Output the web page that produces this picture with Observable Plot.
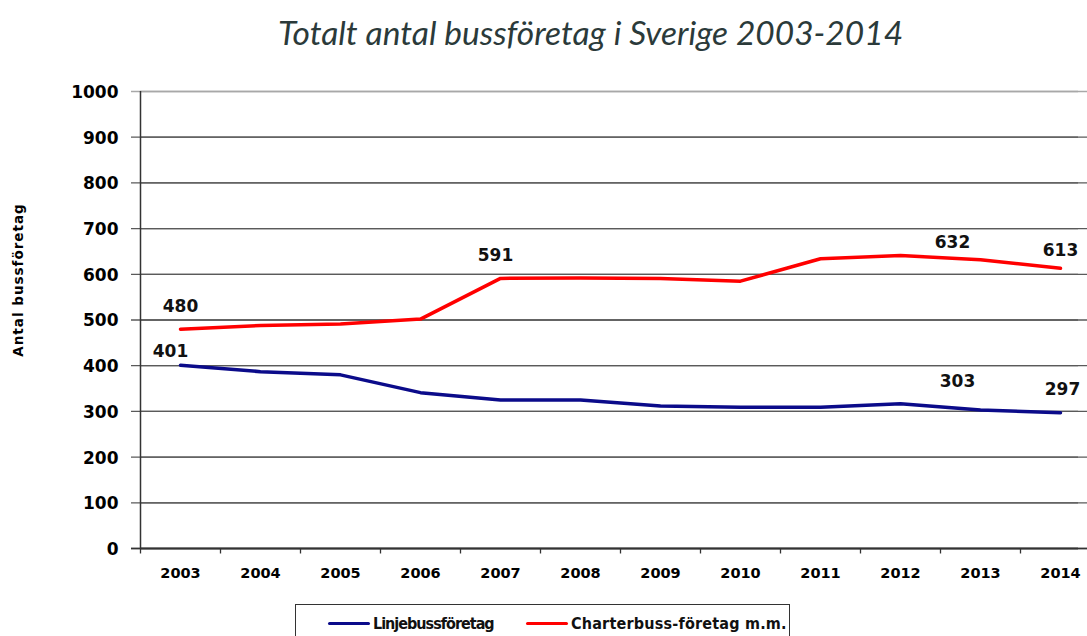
<!DOCTYPE html>
<html>
<head>
<meta charset="utf-8">
<script src="https://cdn.jsdelivr.net/npm/d3@7"></script>
<script src="https://cdn.jsdelivr.net/npm/@observablehq/plot@0.6"></script>
<style>
  html, body { margin: 0; padding: 0; background: #fff; overflow: hidden; width: 1087px; height: 636px; }
  #wrap { position: relative; width: 1087px; height: 636px; overflow: hidden; }
  #title { position: absolute; left: 0; top: 0; width: 1087px; box-sizing: border-box; padding-left: 94px; height: 70px;
           text-align: center; font-family: Lato, "Open Sans", sans-serif; font-style: italic; font-size: 33.5px;
           color: #2b3a3a; line-height: 64px; }
  #chart { position: absolute; left: 0; top: 70px; }
  #legend { position: absolute; left: 295px; top: 604px; width: 495px; height: 50px; box-sizing: border-box;
            border: 1.5px solid #333; background: #fff; }
  .item { position: absolute; top: 9px; display: flex; align-items: center;
          font-family: "Liberation Sans Narrow", "DejaVu Sans Condensed", sans-serif; font-weight: bold; font-size: 16px; color: #111; }
  .sw { display: inline-block; width: 42px; height: 3.5px; margin-right: 3px; border-radius: 2px; }
</style>
</head>
<body>
<div id="wrap">
  <div id="title">Totalt antal bussföretag i Sverige 2003-2014</div>
  <div id="chart"></div>
  <div id="legend"></div>
</div>
<script>
const years = ["2003","2004","2005","2006","2007","2008","2009","2010","2011","2012","2013","2014"];
const linje = [401, 387, 380, 341, 325, 325, 312, 309, 309, 317, 303, 297];
const charter = [480, 488, 491, 502, 591, 592, 591, 585, 634, 641, 632, 613];
const yTicks = [0, 100, 200, 300, 400, 500, 600, 700, 800, 900, 1000];
const seriesNames = ["Linjebussföretag", "Charterbuss-företag m.m."];
const seriesColors = ["#0b0b8a", "#ff0000"];
const yLabel = "Antal bussföretag";

const rows = [];
years.forEach((y, i) => {
  rows.push({year: y, value: linje[i], series: seriesNames[0]});
  rows.push({year: y, value: charter[i], series: seriesNames[1]});
});
const lab = (s, y) => rows.filter(d => d.series === s && d.year === y);

const numFont = "'DejaVu Sans', Verdana, sans-serif";
const gridColor = d => d === 1000 ? "#a8a8a8" : "#5a5a5a";
const labelOpts = {x: "year", y: "value", text: d => String(d.value), fontFamily: numFont, fontWeight: "bold", fontSize: 17, fill: "#111"};

const plot = Plot.plot({
  width: 1087,
  height: 530,
  marginTop: 21,
  marginBottom: 52,
  marginLeft: 140,
  marginRight: 0,
  style: {background: "#fff", overflow: "visible"},
  x: {type: "point", domain: years, range: [140, 1100], padding: 0.5, axis: null},
  y: {domain: [0, 1000], axis: null},
  color: {domain: seriesNames, range: seriesColors},
  marks: [
    // gridlines
    Plot.ruleY(yTicks, {y: d => d, stroke: gridColor, strokeWidth: 1.3}),
    // y tick marks
    Plot.ruleY(yTicks, {y: d => d, dx: -9, stroke: gridColor, strokeWidth: 1.3}),
    // axes lines
    Plot.ruleY([0], {dx: -9, stroke: "#333", strokeWidth: 1.5}),
    Plot.ruleY([0], {stroke: "#333", strokeWidth: 1.5}),
    Plot.ruleX([years[0]], {y1: 0, y2: 1000, dx: -40, stroke: "#333", strokeWidth: 1.5}),
    // x tick marks at category boundaries
    Plot.ruleX(years, {x: d => d, y1: 0, y2: -12, dx: -40, stroke: "#333", strokeWidth: 1.3}),
    // y tick labels
    Plot.text(yTicks, {y: d => d, text: d => String(d), frameAnchor: "left", textAnchor: "end", dx: -22, dy: 1,
      fontFamily: numFont, fontWeight: "bold", fontSize: 17, fill: "#000"}),
    // x tick labels
    Plot.text(years, {x: d => d, text: d => d, frameAnchor: "bottom", dy: 29,
      fontFamily: numFont, fontWeight: "bold", fontSize: 14.5, fill: "#000"}),
    // y axis label
    Plot.text([yLabel], {text: d => d, frameAnchor: "left", textAnchor: "middle", rotate: -90, dx: -122, dy: -40,
      fontFamily: numFont, fontWeight: "bold", fontSize: 13.5, fill: "#000"}),
    // lines
    Plot.line(rows, {x: "year", y: "value", stroke: "series", z: "series", strokeWidth: 3.5, curve: "linear"}),
    // data labels
    Plot.text(lab(seriesNames[1], "2003"), {...labelOpts, dy: -23}),
    Plot.text(lab(seriesNames[0], "2003"), {...labelOpts, dx: -10, dy: -14}),
    Plot.text(lab(seriesNames[1], "2007"), {...labelOpts, dx: -5, dy: -23}),
    Plot.text(lab(seriesNames[1], "2013"), {...labelOpts, dx: -28, dy: -17}),
    Plot.text(lab(seriesNames[1], "2014"), {...labelOpts, dx: 0, dy: -18}),
    Plot.text(lab(seriesNames[0], "2013"), {...labelOpts, dx: -23, dy: -28}),
    Plot.text(lab(seriesNames[0], "2014"), {...labelOpts, dx: 2, dy: -23})
  ]
});
d3.select(plot).selectAll("text").filter(function() { return this.textContent === yLabel; })
  .attr("letter-spacing", "1px");
document.getElementById("chart").appendChild(plot);

// legend
const legend = document.getElementById("legend");
const lefts = [32, 230];
const spacing = ["-1px", "0.2px"];
seriesNames.forEach((s, i) => {
  const it = document.createElement("div");
  it.className = "item";
  it.style.left = lefts[i] + "px";
  const sw = document.createElement("span");
  sw.className = "sw";
  sw.style.background = seriesColors[i];
  const tx = document.createElement("span");
  tx.textContent = s;
  tx.style.letterSpacing = spacing[i];
  it.appendChild(sw);
  it.appendChild(tx);
  legend.appendChild(it);
});
</script>
</body>
</html>
